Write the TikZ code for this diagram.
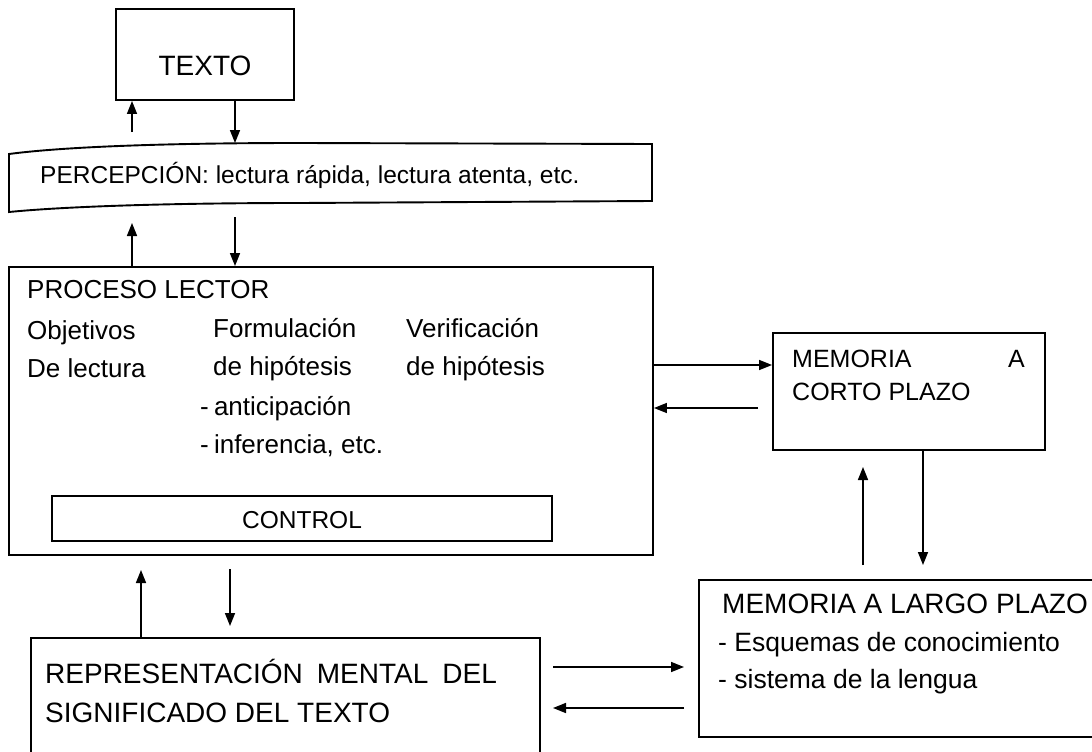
\documentclass[tikz,border=0pt]{standalone}
\usepackage{fontspec}
\setmainfont{Liberation Sans}
\usetikzlibrary{arrows.meta}
\begin{document}
\begin{tikzpicture}[x=1pt,y=-1pt,
  box/.style={draw, line width=1.9pt, inner sep=0pt},
  arr/.style={line width=1.6pt, -{Triangle[length=13pt,width=10pt]}},
  txt/.style={inner sep=0pt, anchor=base west},
  ctxt/.style={inner sep=0pt, anchor=base},
  fA/.style={font=\fontsize{28}{30}\selectfont},
  fB/.style={font=\fontsize{24.5}{28}\selectfont},
  fC/.style={font=\fontsize{26}{30}\selectfont},
  fD/.style={font=\fontsize{25}{29}\selectfont},
  fE/.style={font=\fontsize{26.5}{30}\selectfont},
]
\fill[white] (0,0) rectangle (1092,752);
\useasboundingbox (0,0) rectangle (1092,752);

% ---------- TEXTO ----------
\node[box, minimum width=178pt, minimum height=91pt] (texto) at (205,54.5) {};
\node[ctxt, fA] (textoT) at (205,75) {TEXTO};

% ---------- PERCEPCION ----------
\draw[line width=1.9pt] (9,154) .. controls (70,146) and (180,143) .. (300,143) -- (652,144)
  -- (652,201) -- (300,203) .. controls (180,203) and (70,206) .. (9,212) -- cycle;
\node[inner sep=0pt, minimum width=643pt, minimum height=58pt] (perc) at (330.5,177) {};
\node[txt, fB] (percT) at (40,183) {PERCEPCIÓN: lectura rápida, lectura atenta, etc.};
\coordinate (pTop) at (235,143);
\coordinate (pUp) at (132,132);
\coordinate (pUp2) at (132,223);
\coordinate (pDn2) at (235,217);

% ---------- PROCESO LECTOR ----------
\node[box, minimum width=644pt, minimum height=288pt] (proc) at (331,411) {};
\node[txt, fC] (procT) at (27,298) {PROCESO LECTOR};
\node[txt, fC] (obj1) at (27,339) {Objetivos};
\node[txt, fC] (obj2) at (27,377) {De lectura};
\node[txt, fC] (for1) at (213,337) {Formulación};
\node[txt, fC] (for2) at (213,375) {de hipótesis};
\node[txt, fC] (for3) at (200,415) {-\hspace{0.2em}anticipación};
\node[txt, fC] (for4) at (200,453) {-\hspace{0.2em}inferencia, etc.};
\node[txt, fC] (ver1) at (406,337) {Verificación};
\node[txt, fC] (ver2) at (406,375) {de hipótesis};
\node[box, minimum width=500pt, minimum height=45pt] (ctrl) at (302,518.5) {};
\node[ctxt, fB] (ctrlT) at (302,528) {CONTROL};

% ---------- REPRESENTACION ----------
\node[box, minimum width=509pt, minimum height=142pt] (rep) at (285.5,709) {};
\node[txt, fA] (rep1) at (45,683) {REPRESENTACIÓN\hspace{0.5em}MENTAL\hspace{0.5em}DEL};
\node[txt, fA] (rep2) at (45,722) {SIGNIFICADO DEL TEXTO};

% ---------- MEMORIA CORTO PLAZO ----------
\node[box, minimum width=272pt, minimum height=117pt] (corto) at (909,391.5) {};
\node[txt, fD] (corto1) at (792,367) {MEMORIA};
\node[txt, fD] (corto2) at (1008,367) {A};
\node[txt, fD] (corto3) at (792,400) {CORTO PLAZO};

% ---------- MEMORIA LARGO PLAZO ----------
\node[box, minimum width=421pt, minimum height=157pt] (largo) at (909.5,658.5) {};
\node[txt, fA] (largo1) at (722,613) {MEMORIA A LARGO PLAZO};
\node[txt, fE] (largo2) at (718,651) {- Esquemas de conocimiento};
\node[txt, fE] (largo3) at (718,688) {- sistema de la lengua};

% ---------- connectors ----------
\draw[arr] (pUp) -- (pUp |- texto.south);
\draw[arr] (texto.south -| pTop) -- (pTop);
\draw[arr] (proc.north -| pUp2) -- (pUp2);
\draw[arr] (pDn2) -- (pDn2 |- proc.north);

\coordinate (yR1) at (0,365);
\coordinate (cL) at (758,408);
\draw[arr] (proc.east |- yR1) -- (corto.west |- yR1);
\draw[arr] (cL) -- (cL -| proc.east);

\coordinate (vUpS) at (863,565);
\coordinate (vUpE) at (863,467);
\coordinate (vDnE) at (923,565);
\draw[arr] (vUpS) -- (vUpE);
\draw[arr] (corto.south -| vDnE) -- (vDnE);

\coordinate (rUpE) at (141,570);
\coordinate (rDnS) at (230,569);
\coordinate (rDnE) at (230,626);
\draw[arr] (rep.north -| rUpE) -- (rUpE);
\draw[arr] (rDnS) -- (rDnE);

\coordinate (hA1) at (553,667);
\coordinate (hA2) at (684,667);
\coordinate (hB1) at (684,708);
\coordinate (hB2) at (553,708);
\draw[arr] (hA1) -- (hA2);
\draw[arr] (hB1) -- (hB2);
\end{tikzpicture}
\end{document}
